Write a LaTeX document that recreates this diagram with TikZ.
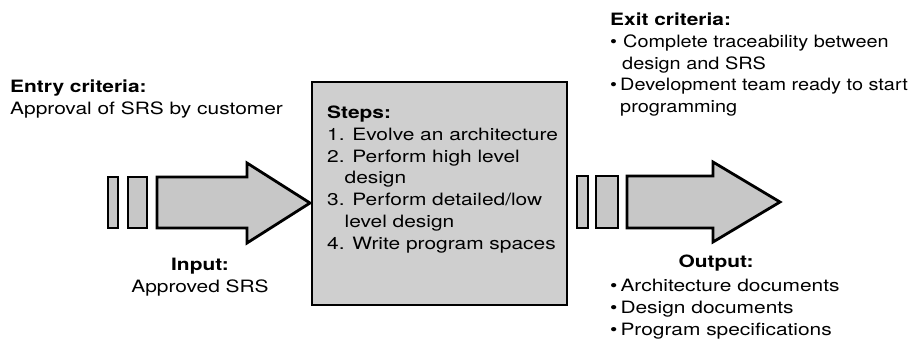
\documentclass[tikz,border=0pt]{standalone}
\usepackage{fontspec}
\setmainfont{TeX Gyre Heros}[FakeStretch=1.23]
\newfontfamily\narrowfont{TeX Gyre Heros}[FakeStretch=1.17]
\definecolor{halftone}{gray}{0.78}

\begin{document}
\begin{tikzpicture}[x=1pt,y=-1pt,
	flow/.style={draw,line width=2.8pt,line join=miter,fill=halftone},
	stepbox/.style={draw,line width=1.8pt,fill=halftone!85!white},
	txt/.style={inner sep=0pt,align=left,font=\fontsize{17}{21.7}\selectfont}]
	\useasboundingbox (0,0) rectangle (915,338);
	% incoming arrow
	\coordinate (A) at (157,177);
	\coordinate (B) at (247,163);
	\coordinate (C) at (310,203);
	\draw[flow] (108,177) rectangle (118,228);
	\draw[flow] (128,177) rectangle (147,228);
	\draw[flow] (A) -- (B |- A) -- (B) -- (C) -- (B |- 0,243) -- (B |- 0,228) -- (A |- 0,228) -- cycle;
	% outgoing arrow
	\coordinate (D) at (627,176);
	\coordinate (E) at (713,162);
	\coordinate (F) at (780,202);
	\draw[flow] (577,176) rectangle (588,228);
	\draw[flow] (596,176) rectangle (618,228);
	\draw[flow] (D) -- (E |- D) -- (E) -- (F) -- (E |- 0,242) -- (E |- 0,228) -- (D |- 0,228) -- cycle;
	% the phase
	\draw[stepbox] (312,82) rectangle (567,305);
	\node[txt,anchor=north west] (steps) at (327,106) {\textbf{Steps:}\\
		1. Evolve an architecture\\
		2. Perform high level\\
		\phantom{2.}design\\
		3. Perform detailed/low\\
		\phantom{3.}level design\\
		4. Write program spaces};
	\node[txt,anchor=north west] (entry) at (10,80) {\textbf{Entry criteria:}\\Approval of SRS by customer};
	\node[txt,anchor=north,align=center] (input) at (200,258) {\textbf{Input:}\\Approved SRS};
	\node[txt,anchor=north west] (exit) at (610,13) {\textbf{Exit criteria:}\\
		\narrowfont •\hspace{6pt}Complete traceability between\\
		\narrowfont\hspace{12pt}design and SRS\\
		\narrowfont •\hspace{3pt}Development team ready to start\\
		\narrowfont\hspace{10pt}programming};
	\node[txt,anchor=north,align=center] (output) at (716,255) {\textbf{Output:}};
	\node[txt,anchor=north west] (outlist) at (610,279) {•\hspace{3pt}Architecture documents\\
		•\hspace{3pt}Design documents\\
		•\hspace{3pt}Program specifications};
\end{tikzpicture}
\end{document}
